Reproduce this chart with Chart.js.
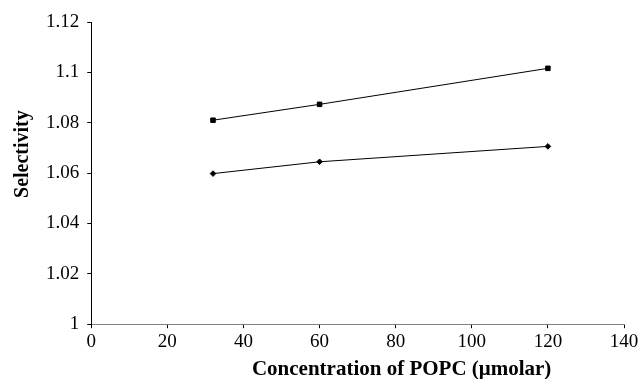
<!DOCTYPE html>
<html>
<head>
<meta charset="utf-8">
<script src="https://cdn.jsdelivr.net/npm/chart.js@4/dist/chart.umd.min.js"></script>
<style>
  html, body { margin: 0; padding: 0; background: #fff; }
  #wrap { width: 643px; height: 379px; }
</style>
</head>
<body>
<div id="wrap"><canvas id="chart"></canvas></div>
<script>
const concentrations = [32, 60, 120]
const upperSeries = [1.081, 1.0873, 1.1016]
const lowerSeries = [1.0598, 1.0645, 1.0706]
const xTicks = [0, 20, 40, 60, 80, 100, 120, 140]
const yTicks = [1, 1.02, 1.04, 1.06, 1.08, 1.1, 1.12]
const xTitle = 'Concentration of POPC (μmolar)'
const yTitle = 'Selectivity'

const serif = '"Liberation Serif", "Times New Roman", serif'
const toPoints = (vals) => vals.map((v, i) => ({ x: concentrations[i], y: v }))

// axis titles sit off-centre in the original, so draw them by hand
const axisTitles = {
    id: 'axisTitles',
    afterDraw(chart) {
        const { ctx, chartArea } = chart
        ctx.save()
        ctx.fillStyle = '#000'
        ctx.textAlign = 'center'
        ctx.textBaseline = 'alphabetic'
        ctx.font = 'bold 21px ' + serif
        ctx.fillText(xTitle, (chartArea.left + chartArea.right) / 2 + 44, chartArea.bottom + 51)
        ctx.font = 'bold 20px ' + serif
        ctx.translate(28, (chartArea.top + chartArea.bottom) / 2 - 19)
        ctx.rotate(-Math.PI / 2)
        ctx.fillText(yTitle, 0, 0)
        ctx.restore()
    }
}

new Chart(document.getElementById('chart'), {
    type: 'scatter',
    data: {
        datasets: [{
            label: 'Upper',
            data: toPoints(upperSeries),
            showLine: true,
            borderColor: '#000',
            backgroundColor: '#000',
            borderWidth: 1,
            pointStyle: 'rect',
            pointRadius: 3.2,
            pointHoverRadius: 3.2
        }, {
            label: 'Lower',
            data: toPoints(lowerSeries),
            showLine: true,
            borderColor: '#000',
            backgroundColor: '#000',
            borderWidth: 1,
            pointStyle: 'rectRot',
            pointRadius: 2.8,
            pointHoverRadius: 2.8
        }]
    },
    plugins: [axisTitles],
    options: {
        responsive: true,
        maintainAspectRatio: false,
        animation: false,
        layout: { padding: { top: 22, right: 19, left: 38, bottom: 24 } },
        plugins: { legend: { display: false }, tooltip: { enabled: false } },
        scales: {
            x: {
                type: 'linear',
                min: 0,
                max: 140,
                afterBuildTicks: (axis) => { axis.ticks = xTicks.map(v => ({ value: v })) },
                border: { color: '#808080', width: 1 },
                grid: { drawOnChartArea: false, tickLength: 4, color: '#000' },
                ticks: {
                    color: '#000',
                    padding: 2,
                    maxRotation: 0,
                    font: { family: serif, size: 19 }
                }
            },
            y: {
                type: 'linear',
                min: 1,
                max: 1.12,
                afterBuildTicks: (axis) => { axis.ticks = yTicks.map(v => ({ value: v })) },
                border: { color: '#000', width: 1 },
                grid: { drawOnChartArea: false, tickLength: 4, color: '#000' },
                ticks: {
                    color: '#000',
                    padding: 8,
                    callback: (v) => String(+v.toFixed(2)),
                    font: { family: serif, size: 19 }
                }
            }
        }
    }
})
</script>
</body>
</html>
